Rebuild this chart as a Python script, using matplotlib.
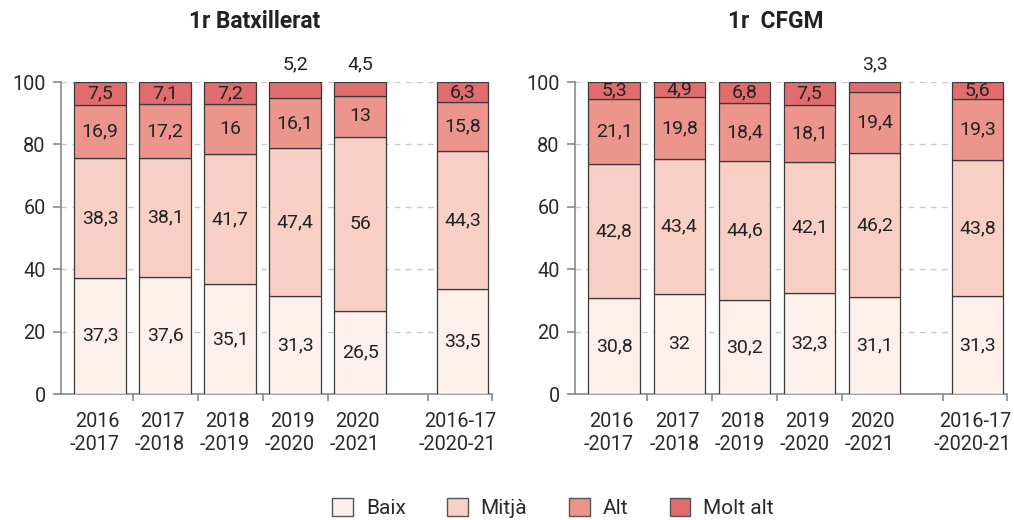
import matplotlib
matplotlib.use("Agg")
import matplotlib.pyplot as plt
from matplotlib.patches import Patch
from matplotlib.transforms import ScaledTranslation

plt.rcParams['font.family'] = ['Roboto', 'DejaVu Sans']

categories = ["2016\n-2017", "2017\n-2018", "2018\n-2019", "2019\n-2020", "2020\n-2021", "2016-17\n-2020-21"]
levels = ["Baix", "Mitjà", "Alt", "Molt alt"]
colors = ["#fdf0eb", "#f7cfc4", "#eb958c", "#e06c6d"]

batx_baix = [37.3, 37.6, 35.1, 31.3, 26.5, 33.5]
batx_mitja = [38.3, 38.1, 41.7, 47.4, 56, 44.3]
batx_alt = [16.9, 17.2, 16, 16.1, 13, 15.8]
batx_molt = [7.5, 7.1, 7.2, 5.2, 4.5, 6.3]

cfgm_baix = [30.8, 32, 30.2, 32.3, 31.1, 31.3]
cfgm_mitja = [42.8, 43.4, 44.6, 42.1, 46.2, 43.8]
cfgm_alt = [21.1, 19.8, 18.4, 18.1, 19.4, 19.3]
cfgm_molt = [5.3, 4.9, 6.8, 7.5, 3.3, 5.6]

# which top labels are drawn above the bar
batx_outside = [3, 4]
cfgm_outside = [4]

xpos = [0, 1, 2, 3, 4, 5.58]
boundaries = [0.5, 1.5, 2.5, 3.5, 5.05, 6.03]

fig = plt.figure(figsize=(10.14, 5.20), dpi=100)
W, H = 1014, 520
ax1 = fig.add_axes([61 / W, 1 - 394 / H, 431 / W, 312 / H])
ax2 = fig.add_axes([575 / W, 1 - 394 / H, 432 / W, 312 / H])


def fmt(v):
    s = f"{v:g}"
    return s.replace(".", ",")


def draw(ax, series, outside, title, tx):
    bottoms = [0] * len(xpos)
    for i, vals in enumerate(series):
        ax.bar(xpos, vals, width=0.79, bottom=bottoms, color=colors[i],
               edgecolor="#3a3a3a", linewidth=0.9, zorder=3)
        for j, (x, v, b) in enumerate(zip(xpos, vals, bottoms)):
            if i == 3 and j in outside:
                ax.text(x, 105.6, fmt(v), ha="center", va="center",
                        fontsize=14, color="#222222", clip_on=False)
            else:
                ax.text(x, b + v / 2, fmt(v), ha="center", va="center",
                        fontsize=14, color="#222222", zorder=4)
        bottoms = [b + v for b, v in zip(bottoms, vals)]
    ax.set_xlim(-0.6, 6.03)
    ax.set_ylim(0, 100)
    ax.set_yticks([0, 20, 40, 60, 80, 100])
    ax.grid(axis="y", linestyle=(0, (4, 4)), color="#c8c8c8", linewidth=1, zorder=0)
    ax.set_axisbelow(True)
    for s in ["top", "right"]:
        ax.spines[s].set_visible(False)
    ax.spines["left"].set_color("#8a8a8a")
    ax.spines["bottom"].set_color("#8a8a8a")
    ax.spines["left"].set_linewidth(1.2)
    ax.spines["bottom"].set_linewidth(1.2)
    ax.set_xticks(xpos)
    ax.set_xticklabels(categories, linespacing=1.25)
    ax.set_xticks(boundaries, minor=True)
    ax.tick_params(axis="x", which="major", length=0, pad=13, labelsize=14.3, labelcolor="#2a2a2a")
    ax.tick_params(axis="x", which="minor", length=5, color="#8a8a8a", width=1.2)
    ax.tick_params(axis="y", length=6, color="#8a8a8a", width=1.2, labelsize=14.3,
                   labelcolor="#2a2a2a", pad=5)
    off = ScaledTranslation(-5 / 100, 0, fig.dpi_scale_trans)
    for lab in ax.get_xticklabels():
        lab.set_multialignment("right")
        lab.set_transform(lab.get_transform() + off)
    fig.text(tx, 1 - 22 / H, title, ha="center", va="center", fontsize=16.4,
             fontweight="bold", color="#222222")


draw(ax1, [batx_baix, batx_mitja, batx_alt, batx_molt], batx_outside, "1r Batxillerat", 255 / W)
draw(ax2, [cfgm_baix, cfgm_mitja, cfgm_alt, cfgm_molt], cfgm_outside, "1r  CFGM", 776 / W)

handles = [Patch(facecolor=c, edgecolor="#555555", linewidth=1.0) for c in colors]
fig.legend(handles, levels, loc="center", bbox_to_anchor=(553 / W, 1 - 508 / H), ncol=4,
           frameon=False, fontsize=15, handlelength=1.0, handleheight=1.0,
           columnspacing=2.0, handletextpad=0.6, labelcolor="#2a2a2a")

fig.savefig("out.png", dpi=100)
